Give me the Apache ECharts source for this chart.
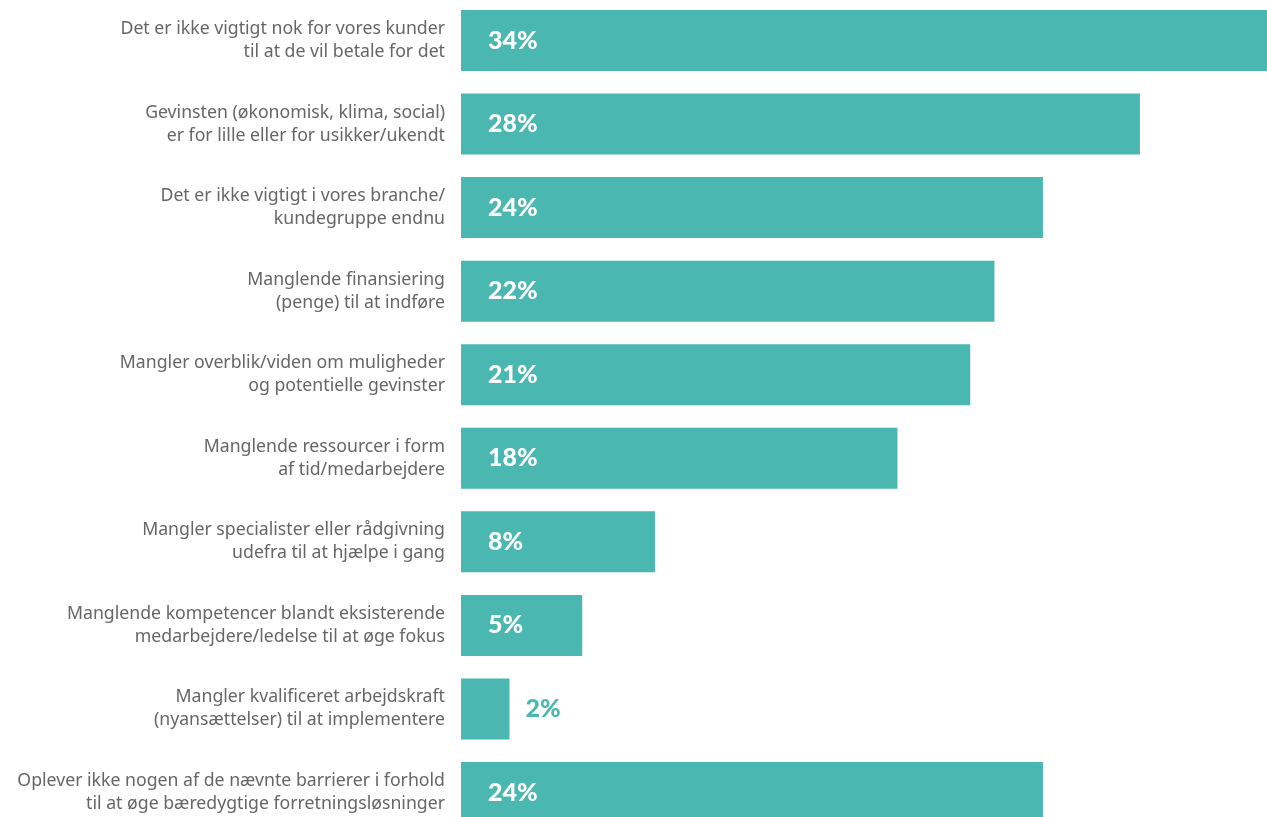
<!DOCTYPE html>
<html><head><meta charset="utf-8">
<script src="https://cdn.jsdelivr.net/npm/echarts@6/dist/echarts.min.js"></script>
<style>html,body{margin:0;padding:0;background:#fff;}#c{width:1267px;height:817px;}</style>
</head><body><div id="c"></div>
<script>
const categories = [
  "Det er ikke vigtigt nok for vores kunder\ntil at de vil betale for det",
  "Gevinsten (økonomisk, klima, social)\ner for lille eller for usikker/ukendt",
  "Det er ikke vigtigt i vores branche/\nkundegruppe endnu",
  "Manglende finansiering\n(penge) til at indføre",
  "Mangler overblik/viden om muligheder\nog potentielle gevinster",
  "Manglende ressourcer i form\naf tid/medarbejdere",
  "Mangler specialister eller rådgivning\nudefra til at hjælpe i gang",
  "Manglende kompetencer blandt eksisterende\nmedarbejdere/ledelse til at øge fokus",
  "Mangler kvalificeret arbejdskraft\n(nyansættelser) til at implementere",
  "Oplever ikke nogen af de nævnte barrierer i forhold\ntil at øge bæredygtige forretningsløsninger"
];
const values = [34, 28, 24, 22, 21, 18, 8, 5, 2, 24];

const teal = '#4AB8B1';
const chart = echarts.init(document.getElementById('c'));
chart.setOption({
  animation: false,
  grid: {left: 461, width: 806, top: -1.3, height: 835.6, containLabel: false, outerBoundsMode: 'none'},
  xAxis: {type: 'value', min: 0, max: 33.24, show: false},
  yAxis: {
    type: 'category', data: categories, inverse: true,
    axisLine: {show: false}, axisTick: {show: false},
    axisLabel: {margin: 16, color: '#666', fontSize: 17.7, lineHeight: 23, fontFamily: 'Noto Sans', align: 'right', padding: [5, 0, 0, 0]}
  },
  series: [{
    type: 'bar',
    data: values.map(v => ({
      value: v,
      label: v < 4 ? {position: 'right', distance: 16, color: teal} : {position: 'insideLeft', distance: 27, color: '#fff'}
    })),
    barCategoryGap: '27%',
    itemStyle: {color: teal},
    label: {show: true, formatter: '{c}%', fontSize: 25, fontWeight: 900, fontFamily: 'Lato'}
  }]
});
</script></body></html>
